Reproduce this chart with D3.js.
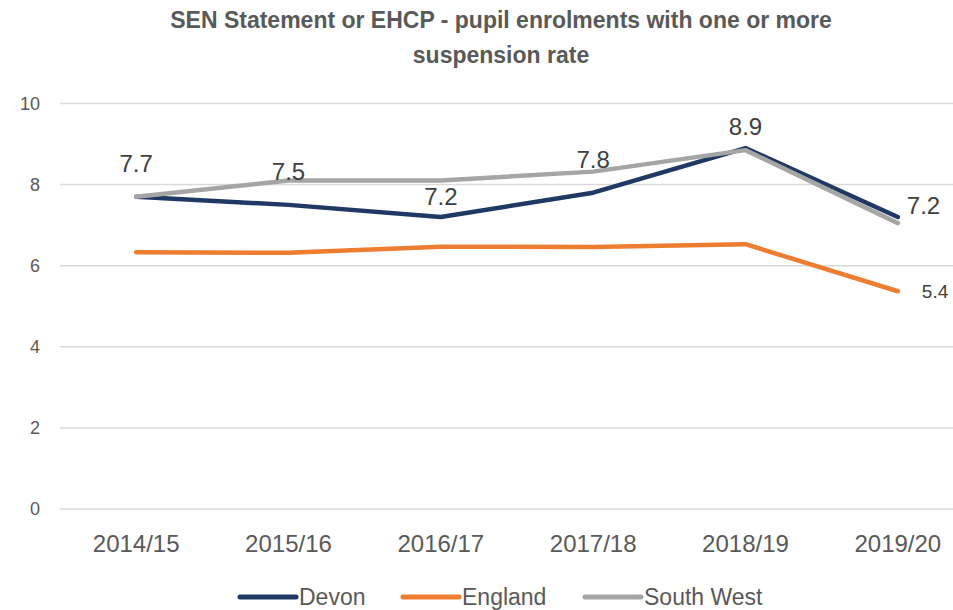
<!DOCTYPE html>
<html>
<head>
<meta charset="utf-8">
<script src="https://cdn.jsdelivr.net/npm/d3@7"></script>
<style>
  body { margin: 0; background: #fff; }
  svg { display: block; font-family: "Liberation Sans", Arial, sans-serif; }
</style>
</head>
<body>
<div id="chart"></div>
<script>
// chart data
var years = ["2014/15", "2015/16", "2016/17", "2017/18", "2018/19", "2019/20"];
var devon = [7.7, 7.5, 7.2, 7.8, 8.9, 7.2];
var england = [6.33, 6.32, 6.47, 6.46, 6.53, 5.37];
var southWest = [7.7, 8.1, 8.1, 8.32, 8.85, 7.05];
var yTicks = [0, 2, 4, 6, 8, 10];

var series = [
    {name: "Devon", values: devon, color: "#203864"},
    {name: "England", values: england, color: "#ED7D31"},
    {name: "South West", values: southWest, color: "#A5A5A5"}
];

var width = 953, height = 610;

var svg = d3.select("#chart")
    .append("svg")
    .attr("width", width)
    .attr("height", height);

var x = d3.scaleBand()
    .domain(years)
    .range([60, 974]);

var y = d3.scaleLinear()
    .domain([0, 10])
    .range([509, 103.5]);

function cx(d) { return x(d) + x.bandwidth() / 2; }

// title
var title = svg.append("text")
    .attr("text-anchor", "middle")
    .attr("x", 501)
    .style("font-weight", "bold")
    .style("font-size", "23px")
    .style("fill", "#595959");
title.append("tspan").attr("x", 501).attr("y", 28)
    .text("SEN Statement or EHCP - pupil enrolments with one or more");
title.append("tspan").attr("x", 501).attr("y", 63)
    .text("suspension rate");

// gridlines
svg.append("g")
    .selectAll("line")
    .data(yTicks)
    .enter().append("line")
    .attr("x1", 60)
    .attr("x2", width)
    .attr("y1", function (d) { return y(d); })
    .attr("y2", function (d) { return y(d); })
    .style("stroke", "#D9D9D9")
    .style("stroke-width", 1.5);

// y axis labels
svg.append("g")
    .selectAll("text")
    .data(yTicks)
    .enter().append("text")
    .attr("x", 40)
    .attr("y", function (d) { return y(d) + 6; })
    .attr("text-anchor", "end")
    .style("font-size", "18px")
    .style("fill", "#595959")
    .text(function (d) { return d; });

// x axis labels
svg.append("g")
    .selectAll("text")
    .data(years)
    .enter().append("text")
    .attr("x", cx)
    .attr("y", 552)
    .attr("text-anchor", "middle")
    .style("font-size", "24px")
    .style("fill", "#595959")
    .text(function (d) { return d; });

// lines
var line = d3.line()
    .x(function (d, i) { return cx(years[i]); })
    .y(function (d) { return y(d); });

svg.append("g")
    .selectAll("path")
    .data(series)
    .enter().append("path")
    .attr("d", function (s) { return line(s.values); })
    .style("fill", "none")
    .style("stroke", function (s) { return s.color; })
    .style("stroke-width", 4.5)
    .style("stroke-linecap", "round")
    .style("stroke-linejoin", "round");

// Devon data labels: mostly above the point, last one to the right
var labelDy = [-25, -25, -12, -25, -13, null];
svg.append("g")
    .selectAll("text")
    .data(devon)
    .enter().append("text")
    .attr("x", function (d, i) { return labelDy[i] === null ? cx(years[i]) + 9 : cx(years[i]); })
    .attr("y", function (d, i) { return labelDy[i] === null ? y(d) - 3 : y(d) + labelDy[i]; })
    .attr("text-anchor", function (d, i) { return labelDy[i] === null ? "start" : "middle"; })
    .style("font-size", "24px")
    .style("fill", "#404040")
    .text(function (d) { return d3.format(".1f")(d); });

// England last-point label
var last = years.length - 1;
svg.append("text")
    .attr("x", cx(years[last]) + 24)
    .attr("y", y(england[last]) + 7)
    .style("font-size", "19px")
    .style("fill", "#404040")
    .text(d3.format(".1f")(england[last]));

// legend
var legendX = [240, 403, 585];
var legend = svg.append("g")
    .selectAll("g")
    .data(series)
    .enter().append("g")
    .attr("transform", function (s, i) { return "translate(" + legendX[i] + ",597)"; });
legend.append("line")
    .attr("x1", 0)
    .attr("x2", 56)
    .style("stroke", function (s) { return s.color; })
    .style("stroke-width", 5)
    .style("stroke-linecap", "round");
legend.append("text")
    .attr("x", 59)
    .attr("y", 8)
    .style("font-size", "23px")
    .style("fill", "#595959")
    .text(function (s) { return s.name; });
</script>
</body>
</html>
